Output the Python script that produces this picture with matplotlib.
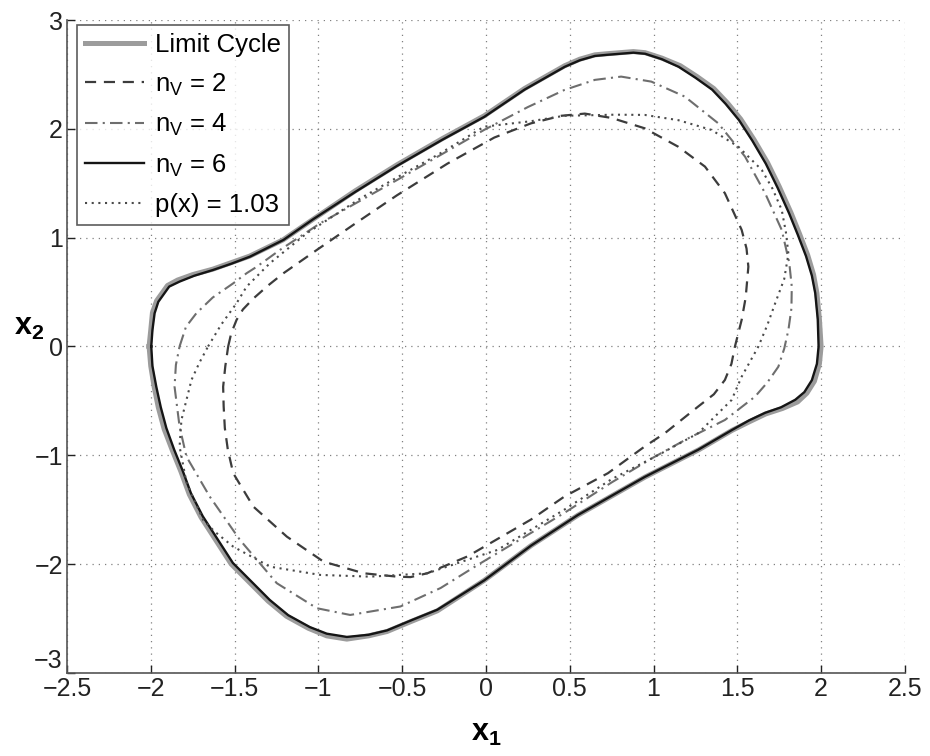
import numpy as np
import matplotlib
matplotlib.use('Agg')
import matplotlib.pyplot as plt

plt.rcParams['font.family'] = ['Liberation Sans', 'DejaVu Sans']
plt.rcParams['mathtext.fontset'] = 'custom'
plt.rcParams['mathtext.rm'] = 'Liberation Sans'
plt.rcParams['mathtext.bf'] = 'Liberation Sans:bold'

# curves, going round clockwise from the left side
lc_x = [-2.01, -2.00, -1.99, -1.965, -1.90, -1.84, -1.75, -1.63, -1.52, -1.41, -1.21, -1.03, -0.78, -0.53,
        -0.26, -0.01, 0.23, 0.47, 0.56, 0.65, 0.72, 0.80, 0.88, 0.95, 1.05, 1.16, 1.26, 1.36, 1.44, 1.52,
        1.60, 1.68, 1.75, 1.82, 1.87, 1.92, 1.955, 1.975, 1.99, 2.00, 1.99, 1.96, 1.915, 1.86, 1.77, 1.67,
        1.575, 1.47, 1.27, 0.95, 0.55, 0.27, -0.01, -0.29, -0.45, -0.59, -0.70, -0.83, -0.95, -1.06, -1.19,
        -1.30, -1.52, -1.70, -1.77, -1.82, -1.87, -1.92, -1.955, -1.98, -2.00]
lc_y = [0.0, 0.15, 0.31, 0.42, 0.56, 0.61, 0.66, 0.71, 0.77, 0.83, 0.98, 1.17, 1.43, 1.67,
        1.91, 2.12, 2.37, 2.58, 2.64, 2.68, 2.69, 2.70, 2.71, 2.70, 2.65, 2.58, 2.48, 2.37, 2.24, 2.09,
        1.90, 1.69, 1.47, 1.23, 1.04, 0.84, 0.66, 0.49, 0.25, 0.0, -0.16, -0.32, -0.43, -0.51, -0.57, -0.62,
        -0.69, -0.77, -0.95, -1.20, -1.55, -1.83, -2.15, -2.43, -2.53, -2.62, -2.66, -2.69, -2.66, -2.59, -2.48,
        -2.34, -2.00, -1.57, -1.36, -1.15, -0.96, -0.76, -0.56, -0.37, -0.18]

nv6_x = [-1.997, -1.99, -1.977, -1.955, -1.89, -1.828, -1.74, -1.628, -1.52, -1.408, -1.208, -1.03, -0.78,
         -0.53, -0.26, -0.01, 0.23, 0.47, 0.56, 0.65, 0.72, 0.80, 0.88, 0.95, 1.05, 1.15, 1.25, 1.35, 1.43,
         1.51, 1.59, 1.67, 1.74, 1.81, 1.86, 1.91, 1.945, 1.965, 1.98, 1.985, 1.975, 1.945, 1.90, 1.846, 1.76,
         1.666, 1.57, 1.466, 1.266, 0.947, 0.548, 0.27, -0.01, -0.29, -0.45, -0.59, -0.70, -0.83, -0.95, -1.05,
         -1.18, -1.29, -1.51, -1.69, -1.76, -1.81, -1.86, -1.907, -1.94, -1.967, -1.99]
nv6_y = [0.0, 0.15, 0.305, 0.41, 0.55, 0.596, 0.65, 0.703, 0.76, 0.825, 0.979, 1.17, 1.42,
         1.66, 1.90, 2.11, 2.36, 2.57, 2.63, 2.67, 2.68, 2.69, 2.70, 2.69, 2.64, 2.57, 2.47, 2.36, 2.23,
         2.08, 1.89, 1.68, 1.46, 1.22, 1.03, 0.83, 0.65, 0.49, 0.25, 0.0, -0.16, -0.31, -0.42, -0.49, -0.56,
         -0.61, -0.68, -0.77, -0.95, -1.20, -1.55, -1.83, -2.15, -2.42, -2.52, -2.61, -2.65, -2.67, -2.64, -2.58,
         -2.47, -2.33, -1.99, -1.56, -1.35, -1.14, -0.95, -0.75, -0.56, -0.37, -0.18]

nv2_x = [-1.538, -1.52, -1.488, -1.45, -1.388, -1.30, -1.208, -1.009, -0.77, -0.53, -0.23, 0.05, 0.268, 0.45,
         0.59, 0.75, 0.947, 1.147, 1.307, 1.426, 1.526, 1.555, 1.566, 1.55, 1.526, 1.486, 1.465, 1.426, 1.36,
         1.266, 1.067, 0.947, 0.728, 0.468, 0.27, -0.11, -0.35, -0.45, -0.53, -0.729, -0.969, -1.188, -1.388,
         -1.508, -1.54, -1.558, -1.565, -1.568, -1.555]
nv2_y = [0.0, 0.12, 0.244, 0.34, 0.44, 0.56, 0.673, 0.887, 1.14, 1.39, 1.68, 1.92, 2.05, 2.12,
         2.14, 2.10, 2.005, 1.836, 1.653, 1.408, 1.071, 0.90, 0.733, 0.45, 0.244, 0.0, -0.16, -0.308, -0.44,
         -0.553, -0.798, -0.92, -1.165, -1.38, -1.59, -1.93, -2.085, -2.12, -2.116, -2.085, -1.978, -1.748, -1.472,
         -1.165, -0.95, -0.75, -0.55, -0.37, -0.18]

nv4_x = [-1.828, -1.79, -1.728, -1.63, -1.508, -1.428, -1.37, -1.229, -0.989, -0.53, -0.011, 0.25, 0.468, 0.65,
         0.807, 0.987, 1.187, 1.386, 1.546, 1.666, 1.765, 1.81, 1.825, 1.823, 1.805, 1.78, 1.745, 1.68, 1.606,
         1.426, 1.2, 1.0, 0.75, 0.468, -0.051, -0.27, -0.51, -0.81, -1.009, -1.248, -1.468, -1.648, -1.787,
         -1.828, -1.858, -1.85]
nv4_y = [0.0, 0.18, 0.305, 0.45, 0.58, 0.673, 0.73, 0.887, 1.132, 1.53, 1.99, 2.20, 2.357, 2.45,
         2.48, 2.434, 2.296, 2.051, 1.745, 1.408, 1.071, 0.77, 0.55, 0.35, 0.152, -0.02, -0.186, -0.33, -0.461,
         -0.676, -0.85, -1.02, -1.25, -1.53, -2.01, -2.22, -2.39, -2.468, -2.406, -2.176, -1.778, -1.38, -1.013,
         -0.737, -0.37, -0.17]

px_x = [-1.658, -1.58, -1.488, -1.428, -1.289, -1.069, -0.75, -0.5, -0.271, -0.011, 0.268, 0.468, 0.768, 0.947,
        1.147, 1.346, 1.506, 1.646, 1.71, 1.765, 1.79, 1.805, 1.78, 1.726, 1.68, 1.626, 1.526, 1.466, 1.266,
        1.05, 0.75, 0.468, 0.069, -0.05, -0.35, -0.69, -0.989, -1.289, -1.508, -1.62, -1.687, -1.787, -1.828,
        -1.817, -1.757, -1.71]
px_y = [0.0, 0.2, 0.397, 0.55, 0.765, 1.04, 1.36, 1.58, 1.776, 2.02, 2.07, 2.12, 2.13, 2.128,
        2.08, 1.99, 1.836, 1.622, 1.45, 1.255, 1.05, 0.85, 0.62, 0.397, 0.2, 0.0, -0.278, -0.492, -0.798,
        -0.98, -1.22, -1.50, -1.87, -1.93, -2.085, -2.116, -2.10, -2.024, -1.84, -1.70, -1.595, -1.25, -0.92,
        -0.676, -0.308, -0.15]

x_ticks = [-2.5, -2, -1.5, -1, -0.5, 0, 0.5, 1, 1.5, 2, 2.5]
x_tick_labels = ['\u22122.5', '\u22122', '\u22121.5', '\u22121', '\u22120.5', '0', '0.5', '1', '1.5', '2', '2.5']
y_ticks = [-3, -2, -1, 0, 1, 2, 3]
y_tick_labels = ['\u22123', '\u22122', '\u22121', '0', '1', '2', '3']


def closed(xs, ys):
    return list(xs) + [xs[0]], list(ys) + [ys[0]]


fig = plt.figure(figsize=(9.3, 7.56), dpi=100)
ax = fig.add_axes([0.072, 0.110, 0.901, 0.8635])

ax.plot(*closed(lc_x, lc_y), color='#9c9c9c', lw=3.6, label='Limit Cycle', solid_joinstyle='round')
ax.plot(*closed(nv2_x, nv2_y), color='#3c3c3c', lw=1.6, dashes=(5, 3.5),
        label=r'n$_{\mathregular{V}}$ = 2')
ax.plot(*closed(nv4_x, nv4_y), color='#6e6e6e', lw=1.5, dashes=(6, 2.5, 1, 2.5),
        label=r'n$_{\mathregular{V}}$ = 4')
ax.plot(*closed(nv6_x, nv6_y), color='#151515', lw=1.7, label=r'n$_{\mathregular{V}}$ = 6',
        solid_joinstyle='round')
ax.plot(*closed(px_x, px_y), color='#4a4a4a', lw=1.5, dashes=(1, 2.2), label='p(x) = 1.03')

ax.set_xlim(-2.5, 2.5)
ax.set_ylim(-3, 3)
ax.set_xticks(x_ticks)
ax.set_xticklabels(x_tick_labels)
ax.set_yticks(y_ticks)
ax.set_yticklabels(y_tick_labels)
ax.tick_params(direction='in', length=6, width=1, labelsize=18, colors='#222222', pad=3)
ax.get_yticklabels()[0].set_va('bottom')
ax.grid(True, linestyle=(0, (1, 4)), color='#808080', lw=0.9)
ax.spines['top'].set_visible(False)
ax.spines['right'].set_visible(False)
for s in ['left', 'bottom']:
    ax.spines[s].set_color('#555555')
    ax.spines[s].set_linewidth(1.2)

ax.set_xlabel(r'$\mathbf{x_1}$', fontsize=22, labelpad=12)
ax.set_ylabel(r'$\mathbf{x_2}$', fontsize=22, rotation=0, va='center')
ax.yaxis.set_label_coords(-0.045, 0.53)

leg = ax.legend(loc='upper left', bbox_to_anchor=(0.012, 0.992), fontsize=18.5, frameon=True, fancybox=False,
                borderaxespad=0, handlelength=2.3, handletextpad=0.45, labelspacing=0.55, borderpad=0.3)
leg.get_frame().set_edgecolor('#333333')
leg.get_frame().set_linewidth(1.2)

fig.savefig('out.png', dpi=100)
